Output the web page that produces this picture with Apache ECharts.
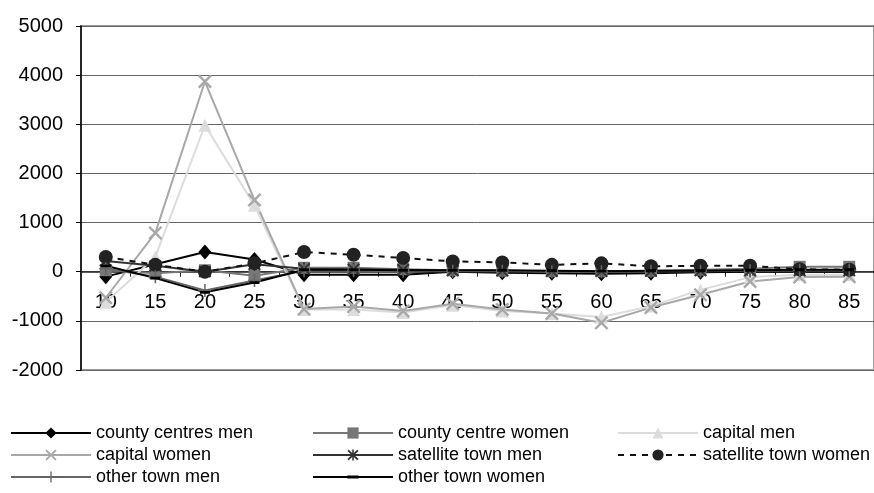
<!DOCTYPE html>
<html>
<head>
<meta charset="utf-8">
<script src="https://cdn.jsdelivr.net/npm/echarts@6/dist/echarts.min.js"></script>
<style>
  html, body { margin: 0; padding: 0; background: #fff; }
  #chart { width: 874px; height: 493px; }
</style>
</head>
<body>
<div id="chart"></div>
<script>
// Age groups on the category axis
const ages = ['10', '15', '20', '25', '30', '35', '40', '45', '50', '55', '60', '65', '70', '75', '80', '85'];

// Net migration by age group and settlement type
const countyCentresMen   = [-100, 150, 400, 250, -60, -60, -60, 0, -20, -30, -40, -30, -10, 0, 0, 0];
const countyCentreWomen  = [30, -30, 30, -80, 80, 80, 50, 30, 20, 10, 10, 20, 40, 60, 100, 100];
const capitalMen         = [-620, 300, 2980, 1350, -770, -770, -830, -680, -800, -850, -920, -700, -370, -110, -60, -60];
const capitalWomen       = [-530, 790, 3870, 1460, -760, -710, -800, -650, -770, -850, -1040, -730, -470, -200, -110, -100];
const satelliteTownMen   = [220, 120, 0, 150, 60, 50, 40, 20, 20, 10, 10, 10, 20, 20, 20, 20];
const satelliteTownWomen = [300, 140, 0, 170, 400, 345, 280, 210, 190, 140, 170, 110, 120, 120, 50, 40];
const otherTownMen       = [60, -100, -380, -180, 20, 20, 10, 10, 10, 0, 0, 10, 10, 20, 30, 30];
const otherTownWomen     = [120, -130, -420, -220, 40, 40, 30, 30, 30, 20, 10, 20, 20, 30, 40, 40];

// Value axis range
const yMin = -2000, yMax = 5000, yStep = 1000;

// Marker shapes (10x10 boxes)
const crossPath = 'path://M0,1.2L1.2,0L5,3.8L8.8,0L10,1.2L6.2,5L10,8.8L8.8,10L5,6.2L1.2,10L0,8.8L3.8,5Z';
const starPath  = 'path://M0,1.5L1.2,0.3L5,4.1L8.8,0.3L10,1.5L6.2,5.3L10,9.1L8.8,10.3L5,6.5L1.2,10.3L0,9.1L3.8,5.3Z' +
                  'M4.3,0L5.7,0L5.7,10.6L4.3,10.6Z';
const plusPath  = 'path://M4.4,0L5.6,0L5.6,4.4L10,4.4L10,5.6L5.6,5.6L5.6,10L4.4,10L4.4,5.6L0,5.6L0,4.4L4.4,4.4Z';
const dashPath  = 'path://M0,0L0.01,0L0,0.01Z M0,3.6L10,3.6L10,6.4L0,6.4Z M10,10L9.99,10L10,9.99Z';

const FONT = 'Liberation Sans, Arial, sans-serif';

function line(name, data, color, symbol, size, extra) {
  return Object.assign({
    name: name,
    type: 'line',
    data: data,
    symbol: symbol,
    symbolSize: size,
    showAllSymbol: true,
    lineStyle: { color: color, width: 2 },
    itemStyle: { color: color, borderWidth: 0 },
    emphasis: { disabled: true },
    animation: false
  }, extra || {});
}

const series = [
  line('county centres men', countyCentresMen, '#000000', 'diamond', [13, 15]),
  line('county centre women', countyCentreWomen, '#777777', 'rect', 12),
  line('capital men', capitalMen, '#dcdcdc', 'triangle', 13),
  line('capital women', capitalWomen, '#a8a8a8', crossPath, 14),
  line('satellite town men', satelliteTownMen, '#333333', starPath, 13),
  line('satellite town women', satelliteTownWomen, '#222222', 'circle', 14, {
    lineStyle: { color: '#111111', width: 2, type: [6, 6] }
  }),
  line('other town men', otherTownMen, '#666666', plusPath, 13),
  line('other town women', otherTownWomen, '#000000', dashPath, 10)
];

// Legend layout: three columns, three rows
const legendCols = [10, 312, 617];
const legendRows = [424, 446, 468];
const legendOrder = [
  ['county centres men', 0, 0], ['county centre women', 1, 0], ['capital men', 2, 0],
  ['capital women', 0, 1], ['satellite town men', 1, 1], ['satellite town women', 2, 1],
  ['other town men', 0, 2], ['other town women', 1, 2]
];
const legends = legendOrder.map(([name, c, r]) => ({
  data: [name],
  left: legendCols[c],
  top: legendRows[r],
  padding: 0,
  itemWidth: 80,
  itemHeight: 14,
  selectedMode: false,
  textStyle: { fontFamily: FONT, fontSize: 18, color: '#000' }
}));

// Grid geometry: y of value 0 inside the plot
const gridTop = 26, gridHeight = 344;
const zeroOffset = gridHeight * (0 - yMin) / (yMax - yMin);

const chart = echarts.init(document.getElementById('chart'), null, { renderer: 'canvas' });
chart.setOption({
  animation: false,
  backgroundColor: '#ffffff',
  grid: {
    left: 81, top: gridTop, width: 800, height: gridHeight,
    show: true, borderColor: '#9a9a9a', borderWidth: 2, backgroundColor: 'transparent'
  },
  legend: legends,
  xAxis: {
    type: 'category',
    data: ages,
    boundaryGap: true,
    position: 'bottom',
    offset: -zeroOffset,
    axisLine: { onZero: false, lineStyle: { color: '#222', width: 1.5 } },
    axisTick: { show: true, inside: false, length: 5, lineStyle: { color: '#222' } },
    axisLabel: { margin: 21, fontFamily: FONT, fontSize: 20, color: '#000' },
    splitLine: { show: false }
  },
  yAxis: {
    type: 'value',
    min: yMin, max: yMax, interval: yStep,
    axisLine: { show: true, lineStyle: { color: '#000', width: 1.5 } },
    axisTick: { show: true, length: 5, lineStyle: { color: '#000' } },
    axisLabel: { margin: 18, fontFamily: FONT, fontSize: 20, color: '#000', formatter: v => String(v) },
    splitLine: { show: true, lineStyle: { color: '#666', width: 1 } }
  },
  series: series
});
</script>
</body>
</html>
